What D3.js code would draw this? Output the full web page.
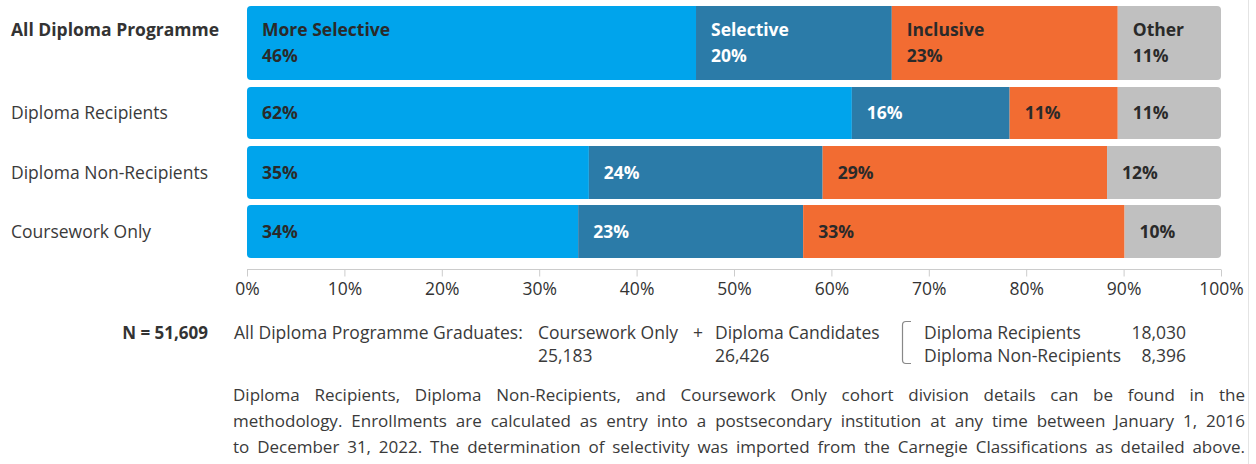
<!DOCTYPE html>
<html><head><meta charset="utf-8">
<script src="https://cdn.jsdelivr.net/npm/d3@7"></script>
<style>
html,body{margin:0;padding:0;background:#fff;}
svg{display:block;font-family:"Open Sans",sans-serif;}
</style></head>
<body><svg id="chart" width="1256" height="464"></svg>
<script>
const categories = ["All Diploma Programme","Diploma Recipients","Diploma Non-Recipients","Coursework Only"];
const seriesNames = ["More Selective","Selective","Inclusive","Other"];
const moreSelective = [46.1, 62.1, 35.1, 34.0];
const selective = [20.1, 16.2, 24.0, 23.1];
const inclusive = [23.2, 11.1, 29.2, 33.0];
const other = [10.6, 10.6, 11.7, 9.9];
const valueLabels = [["46%","20%","23%","11%"],["62%","16%","11%","11%"],["35%","24%","29%","12%"],["34%","23%","33%","10%"]];
const tickValues = [0,10,20,30,40,50,60,70,80,90,100];
const nLabel = "N = 51,609";
const cohortNames = ["Coursework Only","Diploma Candidates"];
const cohortCounts = ["25,183","26,426"];
const candidateNames = ["Diploma Recipients","Diploma Non-Recipients"];
const candidateCounts = ["18,030","8,396"];
const footnoteLines = [
 "Diploma Recipients, Diploma Non-Recipients, and Coursework Only cohort division details can be found in the",
 "methodology. Enrollments are calculated as entry into a postsecondary institution at any time between January 1, 2016",
 "to December 31, 2022. The determination of selectivity was imported from the Carnegie Classifications as detailed above."
];

const colors = ["#00a4ec","#2b7ba8","#f26c32","#c0c0c0"];
const textColors = ["#2a2a2a","#ffffff","#2a2a2a","#2a2a2a"];
const series = [moreSelective, selective, inclusive, other];
const FS = 17.5;

const svg = d3.select("#chart");
const x = d3.scaleLinear().domain([0,100]).range([247,1221]);
const rowTops = [6,87,146,205];
const rowHeights = [74,52,53,53];

svg.append("line").attr("x1",1248.5).attr("x2",1248.5).attr("y1",0).attr("y2",464)
  .attr("stroke","#e4e4e4").attr("stroke-width",1);

categories.forEach((cat,i)=>{
  const g = svg.append("g");
  const clipId = "clip"+i;
  svg.append("clipPath").attr("id",clipId).append("rect")
    .attr("x",x(0)).attr("y",rowTops[i]).attr("width",x(100)-x(0)).attr("height",rowHeights[i])
    .attr("rx",4).attr("ry",4);
  const bg = g.append("g").attr("clip-path",`url(#${clipId})`);
  let cum = 0;
  series.forEach((s,k)=>{
    const v = s[i];
    const x0 = x(cum), x1 = (k===series.length-1) ? x(100) : x(cum+v);
    bg.append("rect").attr("x",x0).attr("y",rowTops[i]).attr("width",x1-x0).attr("height",rowHeights[i])
      .attr("fill",colors[k]);
    if(i===0){
      g.append("text").attr("x",x0+15).attr("y",rowTops[i]+30).attr("fill",textColors[k])
        .attr("font-size",FS).attr("font-weight",700).text(seriesNames[k]);
      g.append("text").attr("x",x0+15).attr("y",rowTops[i]+56).attr("fill",textColors[k])
        .attr("font-size",FS).attr("font-weight",700).text(valueLabels[i][k]);
    } else {
      g.append("text").attr("x",x0+15).attr("y",rowTops[i]+rowHeights[i]/2).attr("dy","0.35em")
        .attr("fill",textColors[k]).attr("font-size",FS).attr("font-weight",700).text(valueLabels[i][k]);
    }
    cum += v;
  });
  svg.append("text").attr("x",11)
    .attr("y", i===0 ? rowTops[i]+30 : rowTops[i]+rowHeights[i]/2).attr("dy", i===0 ? null : "0.35em")
    .attr("font-size",FS).attr("font-weight", i===0?700:400).attr("fill", i===0?"#333":"#3a3a3a")
    .text(cat);
});

const axis = d3.axisBottom(x).tickValues(tickValues).tickFormat(d=>d+"%").tickSize(7).tickPadding(6);
const ax = svg.append("g").attr("transform","translate(0,269.5)").call(axis);
ax.select(".domain").attr("stroke","#cccccc").attr("d",`M${x(0)},0H${x(100)}`);
ax.selectAll(".tick line").attr("stroke","#cccccc").attr("y1",0).attr("y2",7);
ax.selectAll(".tick text").attr("fill","#333").attr("font-size",FS).attr("font-family","Open Sans");

const nY = 333, n2Y = 356;
svg.append("text").attr("x",208).attr("y",nY).attr("dy","0.35em").attr("text-anchor","end")
  .attr("font-size",FS-0.5).attr("font-weight",700).attr("fill","#333").text(nLabel);
const grey = "#3a3a3a";
svg.append("text").attr("x",234).attr("y",nY).attr("dy","0.35em").attr("font-size",FS).attr("fill",grey)
  .text("All Diploma Programme Graduates:");
const cohortX = [538,715];
cohortNames.forEach((c,j)=>{
  svg.append("text").attr("x",cohortX[j]).attr("y",nY).attr("dy","0.35em").attr("font-size",FS).attr("fill",grey).text(c);
  svg.append("text").attr("x",cohortX[j]).attr("y",n2Y).attr("dy","0.35em").attr("font-size",FS).attr("fill",grey).text(cohortCounts[j]);
});
svg.append("text").attr("x",693).attr("y",nY).attr("dy","0.35em").attr("font-size",FS).attr("fill",grey).text("+");
svg.append("path").attr("d","M911,321.5 H906 Q902.5,321.5 902.5,325 V360 Q902.5,363.5 906,363.5 H911")
  .attr("fill","none").attr("stroke","#888").attr("stroke-width",1.2);
candidateNames.forEach((c,j)=>{
  const yy = j===0 ? nY : n2Y;
  svg.append("text").attr("x",924).attr("y",yy).attr("dy","0.35em").attr("font-size",FS).attr("fill",grey).text(c);
  svg.append("text").attr("x",1186).attr("y",yy).attr("dy","0.35em").attr("text-anchor","end").attr("font-size",FS).attr("fill",grey).text(candidateCounts[j]);
});

const fx0 = 233, fx1 = 1245;
const fys = [395,421,447];
footnoteLines.forEach((line,li)=>{
  const words = line.split(" ");
  const g = svg.append("g");
  const ts = words.map(w=> g.append("text").attr("y",fys[li]).attr("dy","0.35em").attr("font-size",17).attr("fill",grey).text(w));
  const widths = ts.map(t=>t.node().getComputedTextLength());
  const total = d3.sum(widths);
  const avail = fx1-fx0;
  const minGap = 4.5;
  let scale = 1;
  if(total + minGap*(words.length-1) > avail){
    scale = (avail - minGap*(words.length-1))/total;
  }
  const gap = (avail - total*scale)/(words.length-1);
  let cx = fx0;
  ts.forEach((t,k)=>{
    const w = widths[k]*scale;
    t.attr("x",cx);
    if(scale<1) t.attr("textLength",w).attr("lengthAdjust","spacingAndGlyphs");
    cx += w + gap;
  });
});
</script></body></html>
